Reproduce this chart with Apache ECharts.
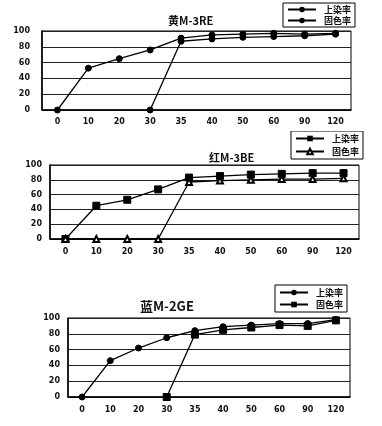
<!DOCTYPE html>
<html><head><meta charset="utf-8">
<script src="https://cdn.jsdelivr.net/npm/echarts@6/dist/echarts.min.js"></script>
<style>
html,body{margin:0;padding:0;background:#fff;width:382px;height:426px;overflow:hidden;}
.c{position:absolute;left:0;width:382px;}
</style></head>
<body>
<div id="c1" class="c" style="top:0;height:131px"></div>
<div id="c2" class="c" style="top:131px;height:140px"></div>
<div id="c3" class="c" style="top:271px;height:155px"></div>
<script>
const categories = ['0','10','20','30','35','40','50','60','90','120'];
const yTicks = [0,20,40,60,80,100];
const legendNames = ['上染率','固色率'];
const titles = ['黄M-3RE','红M-3BE','蓝M-2GE'];

const c1Uptake   = [0,53,65,76,91,95,96,97,96,97];
const c1Fixation = ['-','-','-',0,87,90,92,93,94,96];
const c2Uptake   = [0,45,53,67,83,85,87,88,89,89];
const c2Fixation = [0,0,0,0,77,79,80,81,81,82];
const c3Uptake   = [0,46,62,75,84,89,91,93,93,98];
const c3Fixation = ['-','-','-',0,79,85,88,91,90,97];

const FONT = '"Noto Sans CJK SC", "DejaVu Sans", sans-serif';

function build(el, cfg){
  const ch = echarts.init(document.getElementById(el), null, {renderer:'canvas'});
  ch.setOption({
    animation:false,
    backgroundColor:'#fff',
    title:{text:cfg.title,left:cfg.titleLeft,top:cfg.titleTop,
      textStyle:{fontFamily:FONT,fontSize:cfg.titleSize,fontWeight:'bold',color:'#111'}},
    legend:{orient:'vertical',left:cfg.legLeft,top:cfg.legTop,
      borderColor:'#000',borderWidth:1,padding:cfg.legPad,itemGap:cfg.legGap,
      itemWidth:28,itemHeight:7,
      textStyle:{fontFamily:FONT,fontSize:9,fontWeight:'bold',color:'#111',padding:[0,0,0,3]},
      data:legendNames},
    grid:{left:cfg.grid[0],top:cfg.grid[1],width:cfg.grid[2],height:cfg.grid[3],
      show:true,borderColor:'#000',borderWidth:1,containLabel:false},
    xAxis:{type:'category',data:categories,boundaryGap:true,
      axisLine:{lineStyle:{color:'#000',width:1.5}},axisTick:{show:false},
      axisLabel:{margin:cfg.xMargin,fontFamily:'DejaVu Sans',fontSize:8,fontWeight:'bold',color:'#111'}},
    yAxis:{type:'value',min:yTicks[0],max:yTicks[yTicks.length-1],interval:20,
      axisLine:{show:true,lineStyle:{color:'#000',width:1.5}},axisTick:{show:false},
      splitLine:{lineStyle:{color:'#222',width:1}},
      axisLabel:{margin:cfg.yMargin,fontFamily:'DejaVu Sans',fontSize:8,fontWeight:'bold',color:'#111'}},
    series:[
      {name:legendNames[0],type:'line',data:cfg.d1,symbol:cfg.sym1,symbolSize:cfg.ss1,
        lineStyle:{color:'#000',width:1.3},itemStyle:{color:'#000',borderColor:'#000'},connectNulls:false},
      {name:legendNames[1],type:'line',data:cfg.d2,symbol:cfg.sym2,symbolSize:cfg.ss2,
        lineStyle:{color:'#000',width:1.3},itemStyle:{color:'#000',borderColor:'#000'},connectNulls:false}
    ]
  });
}

build('c1',{title:titles[0],titleLeft:163,titleTop:10,titleSize:11,
  legLeft:283,legTop:3,legPad:[2,4],legGap:2,
  grid:[42,31,309,79],xMargin:8,yMargin:12,
  d1:c1Uptake,d2:c1Fixation,sym1:'circle',sym2:'circle',ss1:6,ss2:6});
build('c2',{title:titles[1],titleLeft:204,titleTop:16,titleSize:11,
  legLeft:291,legTop:0,legPad:[3,4],legGap:4,
  grid:[50,34,309,74],xMargin:9,yMargin:8,
  d1:c2Uptake,d2:c2Fixation,sym1:'rect',sym2:'emptyTriangle',ss1:7,ss2:6});
build('c3',{title:titles[2],titleLeft:135,titleTop:24,titleSize:13,
  legLeft:275,legTop:14,legPad:[3,4],legGap:3,
  grid:[68,47,282,79],xMargin:9,yMargin:8,
  d1:c3Uptake,d2:c3Fixation,sym1:'circle',sym2:'rect',ss1:6,ss2:7});
</script>
</body></html>
